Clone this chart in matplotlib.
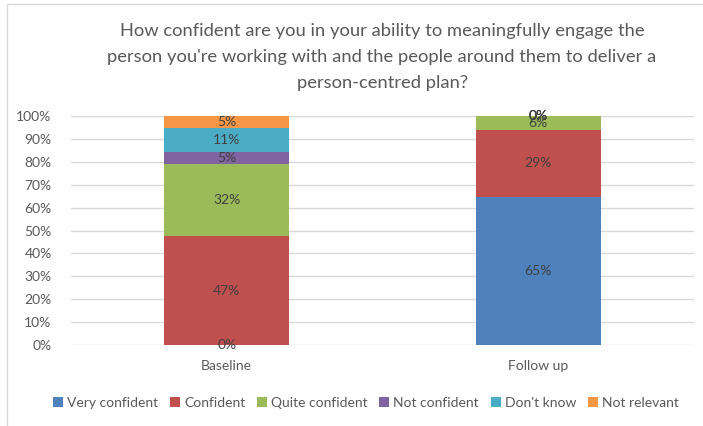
import numpy as np
import matplotlib.pyplot as plt
from matplotlib.patches import Rectangle

plt.rcParams['font.family'] = ['Lato', 'DejaVu Sans']

# Data (percent of respondents)
categories = ['Baseline', 'Follow up']
series = ['Very confident', 'Confident', 'Quite confident', 'Not confident', "Don't know", 'Not relevant']
very_confident = [0.0, 64.7]
confident = [47.4, 29.4]
quite_confident = [31.6, 5.9]
not_confident = [5.2, 0.0]
dont_know = [10.6, 0.0]
not_relevant = [5.2, 0.0]

colors = ['#4F81BD', '#C0504D', '#9BBB59', '#8064A2', '#4BACC6', '#F79646']
text_col = '#595959'

fig = plt.figure(figsize=(7.03, 4.26), dpi=100)
ax = fig.add_axes([71 / 703, 1 - 345 / 426, 623 / 703, 229 / 426])

# chart border (Excel style)
fig.patches.append(Rectangle((7 / 703, -0.1), 1.2, 1 - 4 / 426 + 0.1, transform=fig.transFigure,
                             fill=False, edgecolor='#D9D9D9', lw=1))

x = np.arange(len(categories))
bottom = np.zeros(len(categories))
for name, vals, c in zip(series,
                         [very_confident, confident, quite_confident, not_confident, dont_know, not_relevant],
                         colors):
    vals = np.array(vals)
    ax.bar(x, vals, 0.4, bottom=bottom, color=c, label=name, zorder=2)
    for xi, v, b in zip(x, vals, bottom):
        ax.text(xi, b + v / 2, f'{v:.0f}%', ha='center', va='center', fontsize=10, color='#404040', zorder=3)
    bottom += vals

ax.set_xlim(-0.5, 1.5)
ax.set_ylim(0, 100)
ax.set_yticks(np.arange(0, 101, 10))
ax.set_yticklabels([f'{t}%' for t in range(0, 101, 10)])
ax.set_xticks(x)
ax.set_xticklabels(categories)
ax.tick_params(length=0, labelsize=10, labelcolor=text_col)
ax.tick_params(axis='y', pad=14)
ax.tick_params(axis='x', pad=11)
ax.grid(axis='y', color='#D9D9D9', lw=1, zorder=0)
for s in ax.spines.values():
    s.set_visible(False)

fig.text(382 / 703, 1 - 57 / 426,
         "How confident are you in your ability to meaningfully engage the\n"
         "person you're working with and the people around them to deliver a\n"
         "person-centred plan?",
         ha='center', va='center', fontsize=13.2, color=text_col, linespacing=1.75)

fig.legend(loc='center', bbox_to_anchor=(366 / 703, 1 - 403 / 426), ncol=6, frameon=False,
           fontsize=10, handlelength=0.7, handleheight=0.7, handletextpad=0.3, columnspacing=0.85,
           labelcolor=text_col)

plt.savefig('out.png', dpi=100)
